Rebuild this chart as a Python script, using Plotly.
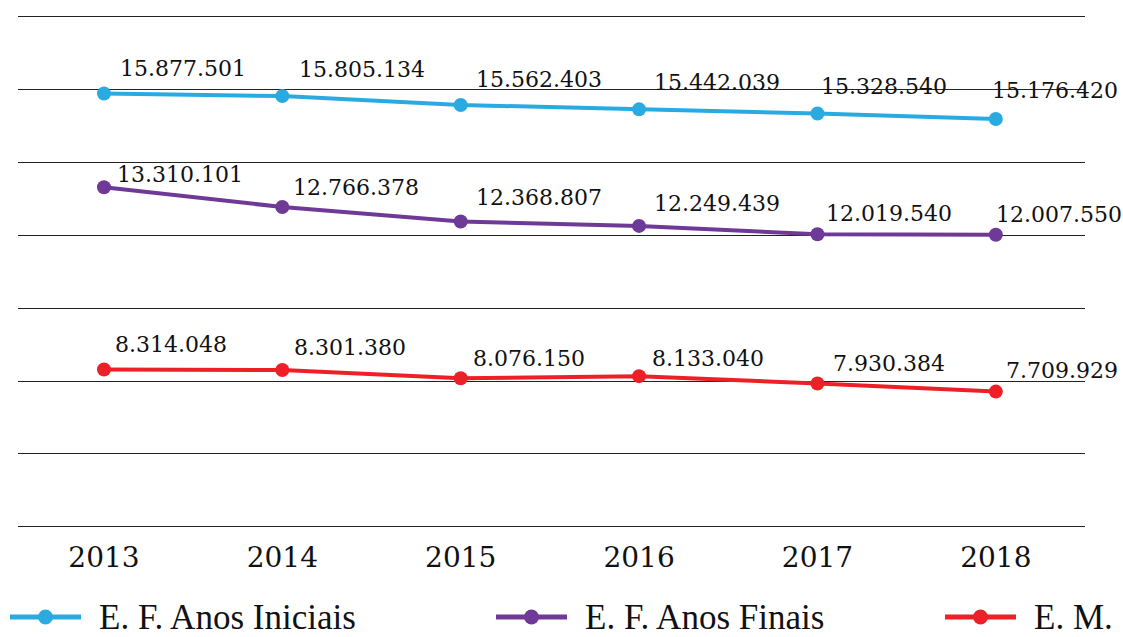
import plotly.graph_objects as go

years = ["2013", "2014", "2015", "2016", "2017", "2018"]
anos_iniciais = [15877501, 15805134, 15562403, 15442039, 15328540, 15176420]
anos_finais = [13310101, 12766378, 12368807, 12249439, 12019540, 12007550]
ensino_medio = [8314048, 8301380, 8076150, 8133040, 7930384, 7709929]

series_names = ["E. F. Anos Iniciais", "E. F. Anos Finais", "E. M."]
series_values = [anos_iniciais, anos_finais, ensino_medio]
colors = ["#29ABE2", "#6F3A97", "#ED2028"]

# label offsets (pixels) relative to each point: (dx right, dy up)
label_dx = [[14, 15, 13, 13, 2, -6],
            [11, 9, 13, 13, 7, -2],
            [9, 10, 10, 11, 14, 8]]
label_dy = [[25, 27, 25, 27, 27, 29],
            [13, 20, 24, 22, 21, 20],
            [25, 23, 20, 18, 20, 21]]

def fmt(v):
    return f"{v:,}".replace(",", ".")

W, H = 1123, 637
ML, MR, MT, MB = 18, 38, 14, 108
PW, PH = W - ML - MR, H - MT - MB

def px_x(p):
    return (p - ML) / PW

def px_y(p):
    return (MT + PH - p) / PH

fig = go.Figure()
annotations = []
shapes = []
for k, (name, vals, col) in enumerate(zip(series_names, series_values, colors)):
    fig.add_trace(go.Scatter(
        x=years, y=vals, name=name, mode="lines+markers",
        line=dict(color=col, width=4),
        marker=dict(color=col, size=14),
        showlegend=False,
    ))
    for i, v in enumerate(vals):
        annotations.append(dict(
            x=i, y=v, xref="x", yref="y", text=fmt(v), showarrow=False,
            xanchor="left", yanchor="middle",
            xshift=label_dx[k][i], yshift=label_dy[k][i],
            font=dict(family="DejaVu Serif", size=22, color="#111"),
        ))

# manual legend
leg_line_start = [10, 496, 945]
leg_line_len = 71
leg_y = 617
for k, (name, col) in enumerate(zip(series_names, colors)):
    x0 = leg_line_start[k]
    x1 = x0 + leg_line_len
    shapes.append(dict(type="line", xref="paper", yref="paper",
                       x0=px_x(x0), x1=px_x(x1), y0=px_y(leg_y), y1=px_y(leg_y),
                       line=dict(color=col, width=5)))
    cx = (x0 + x1) / 2
    shapes.append(dict(type="circle", xref="paper", yref="paper",
                       x0=px_x(cx - 7.5), x1=px_x(cx + 7.5),
                       y0=px_y(leg_y + 7.5), y1=px_y(leg_y - 7.5),
                       fillcolor=col, line=dict(color=col, width=0)))
    annotations.append(dict(
        x=px_x(x1 + 16), y=px_y(leg_y), xref="paper", yref="paper",
        text=name, showarrow=False, xanchor="left", yanchor="middle",
        font=dict(family="Liberation Serif", size=35, color="#111"),
    ))

fig.update_layout(
    width=W, height=H,
    margin=dict(l=ML, r=MR, t=MT, b=MB),
    paper_bgcolor="white", plot_bgcolor="white",
    annotations=annotations, shapes=shapes,
    showlegend=False,
)
fig.update_xaxes(
    type="category", range=[-0.482, 5.5], showgrid=False, zeroline=False,
    showline=False, ticks="", ticklabelstandoff=9,
    tickfont=dict(family="DejaVu Serif", size=28, color="#111"),
)
fig.update_yaxes(
    range=[3.945e6, 18.055e6], dtick=2e6, tick0=0, showgrid=True,
    gridcolor="#222", gridwidth=1, zeroline=False, showline=False,
    showticklabels=False, ticks="",
)

fig.write_html("out.html",
               config={"displayModeBar": False},
               post_script="document.body.style.margin='0';document.body.style.overflow='hidden';")
